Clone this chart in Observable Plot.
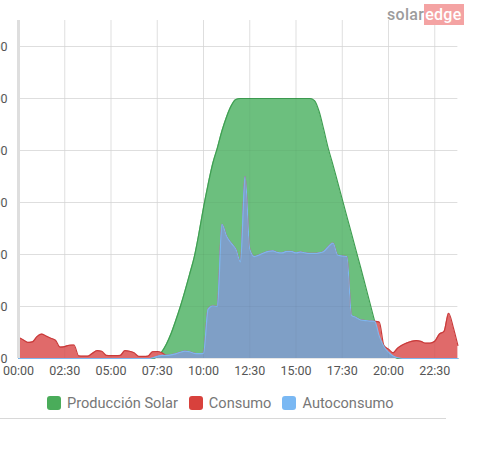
<!DOCTYPE html>
<html>
<head>
<meta charset="utf-8">
<script src="https://cdn.jsdelivr.net/npm/d3@7"></script>
<script src="https://cdn.jsdelivr.net/npm/@observablehq/plot@0.6"></script>
<style>
  body { margin: 0; background: #fff; font-family: Roboto, "Noto Sans", sans-serif; }
  #wrap { position: relative; width: 500px; height: 453px; overflow: hidden; background: #fff; }
  #chart { position: absolute; left: 0; top: 0; }
  .logo { position: absolute; left: 387px; top: 6px; font-size: 16px; font-weight: 500; line-height: 17px; letter-spacing: 0.3px; }
  .logo .solar { color: #9c9c9c; }
  .logo .edge { color: #fff; background: #f4a3a3; padding: 1px 2px 1px 1px; }
  .legend { position: absolute; left: 47px; top: 394px; display: flex; align-items: center; font-size: 14.6px; color: #777; }
  .legend .item { display: flex; align-items: center; margin-right: 11px; }
  .legend .sw { width: 14px; height: 14px; border-radius: 3px; margin-right: 6px; }
  .rule { position: absolute; left: 0; top: 418px; width: 446px; height: 1px; background: #d8d8d8; }
</style>
</head>
<body>
<div id="wrap">
  <div id="chart"></div>
  <div class="logo"><span class="solar">solar</span><span class="edge">edge</span></div>
  <div class="legend" id="legend"></div>
  <div class="rule"></div>
</div>
<script>
// Quarter-hour slots of the day (hours since midnight)
const slots = d3.range(96).map(i => i / 4);

// Solar production, W
const produccion = [
  0, 0, 0, 0, 0, 0, 0, 0, 0, 0, 0, 0, 0, 0, 0, 0,
  0, 0, 0, 0, 0, 0, 0, 0, 0, 0, 0, 0, 0, 0, 40, 130,
  280, 480, 730, 1000, 1300, 1620, 1950, 2400, 2900, 3350, 3750, 4050, 4380, 4650, 4860, 4980,
  5000, 5000, 5000, 5000, 5000, 5000, 5000, 5000, 5000, 5000, 5000, 5000, 5000, 5000, 5000, 5000,
  4960, 4750, 4400, 4030, 3720, 3390, 3060, 2730, 2400, 2070, 1740, 1400, 1060, 720, 430, 240,
  130, 50, 0, 0, 0, 0, 0, 0, 0, 0, 0, 0, 0, 0, 0, 0
];

// Household consumption, W
const consumo = [
  410, 360, 310, 320, 420, 470, 430, 390, 350, 220, 230, 255, 260, 50, 45, 45,
  100, 150, 140, 60, 55, 55, 60, 150, 140, 110, 40, 40, 45, 130, 135, 110,
  60, 70, 90, 120, 140, 130, 100, 95, 100, 950, 1010, 1000, 2580, 2350, 2220, 2100,
  1860, 3500, 2100, 1960, 1990, 2030, 2060, 2070, 2040, 2030, 2060, 2060, 2030, 2050, 2030, 2020,
  2020, 2030, 2060, 2150, 2220, 1990, 1970, 1960, 830, 790, 740, 730, 720, 715, 700, 250,
  180, 110, 200, 260, 300, 330, 345, 330, 295, 295, 330, 470, 520, 870, 600, 250
];

// Self-consumption (solar energy used on site), W
const autoconsumo = [
  0, 0, 0, 0, 0, 0, 0, 0, 0, 0, 0, 0, 0, 0, 0, 0,
  0, 0, 0, 0, 0, 0, 0, 0, 0, 0, 0, 0, 0, 10, 40, 60,
  60, 70, 90, 120, 140, 130, 100, 95, 100, 950, 1010, 1000, 2580, 2350, 2220, 2100,
  1860, 3500, 2100, 1960, 1990, 2030, 2060, 2070, 2040, 2030, 2060, 2060, 2030, 2050, 2030, 2020,
  2020, 2030, 2060, 2150, 2220, 1990, 1970, 1960, 830, 790, 740, 730, 720, 715, 430, 230,
  120, 50, 15, 0, 0, 0, 0, 0, 0, 0, 0, 0, 0, 0, 0, 0
];

const xTicks = [0, 2.5, 5, 7.5, 10, 12.5, 15, 17.5, 20, 22.5];
const xLabels = ["00:00", "02:30", "05:00", "07:30", "10:00", "12:30", "15:00", "17:30", "20:00", "22:30"];
const yTicks = [0, 1000, 2000, 3000, 4000, 5000, 6000];

const seriesNames = ["Producción Solar", "Consumo", "Autoconsumo"];
const seriesColors = ["#4aac5a", "#d8413c", "#7ab8f3"];

const rows = slots.map((t, i) => ({t, prod: produccion[i], cons: consumo[i], auto: autoconsumo[i]}));
const curve = "monotone-x";

const chart = Plot.plot({
  width: 500,
  height: 385,
  marginLeft: 18,
  marginRight: 42.6,
  marginTop: 20,
  marginBottom: 27,
  style: {fontFamily: "Roboto, sans-serif", fontSize: "12.5px", color: "#555", background: "transparent"},
  x: {domain: [0, 23.75]},
  y: {domain: [0, 6500]},
  marks: [
    Plot.ruleY(yTicks, {stroke: "#e7e7e7"}),
    Plot.ruleX(xTicks, {y1: 0, y2: 6500, stroke: "#e7e7e7"}),
    Plot.areaY(rows, {x: "t", y: "prod", fill: "#6cbf7e", curve}),
    Plot.lineY(rows, {x: "t", y: "prod", stroke: "#3f9f52", strokeWidth: 1.2, curve}),
    Plot.areaY(rows, {x: "t", y: "cons", fill: "#e06a6a", curve}),
    Plot.lineY(rows, {x: "t", y: "cons", stroke: "#c93b3b", strokeWidth: 1.2, curve}),
    Plot.areaY(rows, {x: "t", y: "auto", fill: "#7f9fc6", curve}),
    Plot.lineY(rows, {x: "t", y: "auto", stroke: "#7db6ef", strokeWidth: 1.2, curve}),
    // faint grid showing through the filled areas
    Plot.ruleY(yTicks.slice(1), {stroke: "#000", strokeOpacity: 0.035}),
    Plot.ruleX(xTicks.slice(1), {y1: 0, y2: 6500, stroke: "#000", strokeOpacity: 0.035}),
    Plot.ruleX([0], {y1: 0, y2: 6500, stroke: "#dedede", strokeWidth: 3}),
    Plot.axisX({ticks: xTicks, tickFormat: d => xLabels[xTicks.indexOf(d)], tickSize: 0, tickPadding: 7.5, label: null}),
    Plot.axisY({ticks: yTicks, tickFormat: d => String(d), tickSize: 0, tickPadding: 11, label: null})
  ]
});
document.getElementById("chart").appendChild(chart);

const legend = document.getElementById("legend");
seriesNames.forEach((name, i) => {
  const item = document.createElement("div");
  item.className = "item";
  const sw = document.createElement("span");
  sw.className = "sw";
  sw.style.background = seriesColors[i];
  const label = document.createElement("span");
  label.textContent = name;
  item.appendChild(sw);
  item.appendChild(label);
  legend.appendChild(item);
});
</script>
</body>
</html>
